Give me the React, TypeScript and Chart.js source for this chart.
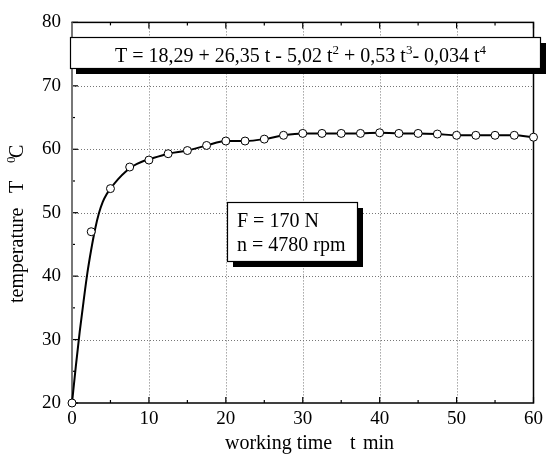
import React, { useEffect, useRef } from "react";
import { Chart, registerables } from "chart.js";

Chart.register(...registerables);

// measured points (time in min, temperature in °C)
const timeMin = [0, 2.5, 5, 7.5, 10, 12.5, 15, 17.5, 20, 22.5, 25, 27.5, 30, 32.5, 35, 37.5, 40, 42.5, 45, 47.5, 50, 52.5, 55, 57.5, 60];
const tempC = [20, 47.0, 53.8, 57.2, 58.3, 59.3, 59.8, 60.6, 61.3, 61.3, 61.6, 62.2, 62.5, 62.5, 62.5, 62.5, 62.6, 62.5, 62.5, 62.4, 62.2, 62.2, 62.2, 62.2, 61.9];

// fitted curve
const curveTime = [0, 0.5, 1, 1.5, 2, 2.5, 3, 3.5, 4, 4.5, 5, 6, 7, 8, 9, 10, 12.5, 15, 17.5, 20, 22.5, 25, 27.5, 30, 32.5, 35, 37.5, 40, 42.5, 45, 47.5, 50, 52.5, 55, 57.5, 60];
const curveTemp = [20, 25.8, 31.2, 36, 40.5, 44.2, 47.4, 49.9, 51.7, 52.9, 53.8, 55.3, 56.5, 57.4, 58, 58.4, 59.3, 59.8, 60.6, 61.3, 61.3, 61.6, 62.2, 62.5, 62.5, 62.5, 62.5, 62.6, 62.5, 62.5, 62.4, 62.2, 62.2, 62.2, 62.2, 61.9];

const xTicks = [0, 10, 20, 30, 40, 50, 60];
const yTicks = [20, 30, 40, 50, 60, 70, 80];

const xLabel = ["working time", "t", "min"];
const yLabel = ["temperature", "T", "0", "C"];
const equation: [string, boolean][] = [
  ["T = 18,29 + 26,35 t - 5,02 t", false],
  ["2", true],
  [" + 0,53 t", false],
  ["3", true],
  ["- 0,034 t", false],
  ["4", true],
];
const conditions = ["F = 170 N", "n = 4780 rpm"];

const FONT = "'Liberation Serif', 'DejaVu Serif', serif";

const decorPlugin = {
  id: "decor",
  beforeDatasetsDraw(chart: any) {
    const { ctx, chartArea: a, scales } = chart;
    const xs = scales.x, ys = scales.y;
    ctx.save();
    // dotted grid
    ctx.strokeStyle = "#777";
    ctx.lineWidth = 1;
    ctx.setLineDash([1, 2]);
    for (let v = 10; v < 60; v += 10) {
      const px = Math.round(xs.getPixelForValue(v)) + 0.5;
      ctx.beginPath(); ctx.moveTo(px, a.top); ctx.lineTo(px, a.bottom); ctx.stroke();
    }
    for (let v = 30; v < 80; v += 10) {
      const py = Math.round(ys.getPixelForValue(v)) + 0.5;
      ctx.beginPath(); ctx.moveTo(a.left, py); ctx.lineTo(a.right, py); ctx.stroke();
    }
    ctx.setLineDash([]);
    // ticks
    ctx.strokeStyle = "#000";
    ctx.lineWidth = 1.2;
    for (let v = 0; v <= 60; v += 5) {
      const px = xs.getPixelForValue(v);
      const len = v % 10 === 0 ? 6 : 3;
      ctx.beginPath(); ctx.moveTo(px, a.bottom); ctx.lineTo(px, a.bottom - len); ctx.stroke();
      ctx.beginPath(); ctx.moveTo(px, a.top); ctx.lineTo(px, a.top + len); ctx.stroke();
    }
    for (let v = 20; v <= 80; v += 5) {
      const py = ys.getPixelForValue(v);
      const len = v % 10 === 0 ? 6 : 3;
      ctx.beginPath(); ctx.moveTo(a.left, py); ctx.lineTo(a.left + len, py); ctx.stroke();
    }
    // frame
    ctx.lineWidth = 1.5;
    ctx.strokeStyle = "#000";
    ctx.strokeRect(a.left, a.top, a.right - a.left, a.bottom - a.top);
    ctx.strokeStyle = "#777";
    ctx.lineWidth = 2;
    ctx.beginPath(); ctx.moveTo(a.left, a.top); ctx.lineTo(a.left, a.bottom); ctx.stroke();
    ctx.restore();
  },
  afterDraw(chart: any) {
    const { ctx } = chart;
    ctx.save();
    ctx.fillStyle = "#000";
    ctx.textBaseline = "alphabetic";
    ctx.textAlign = "left";
    // axis titles
    ctx.font = `20px ${FONT}`;
    ctx.fillText(xLabel[0], 225, 449);
    ctx.fillText(xLabel[1], 350, 449);
    ctx.fillText(xLabel[2], 363, 449);

    const rot = (s: string, x: number, y: number, font: string) => {
      ctx.save();
      ctx.translate(x, y);
      ctx.rotate(-Math.PI / 2);
      ctx.font = font;
      ctx.fillText(s, 0, 0);
      ctx.restore();
    };
    rot(yLabel[0], 23, 303, `20px ${FONT}`);
    rot(yLabel[1], 23, 193, `20px ${FONT}`);
    rot(yLabel[2], 15, 163, `13px ${FONT}`);
    rot(yLabel[3], 23, 158, `20px ${FONT}`);

    // box helper
    const box = (x: number, y: number, w: number, h: number) => {
      ctx.fillStyle = "#000";
      ctx.fillRect(x + 6, y + 6, w, h);
      ctx.fillStyle = "#fff";
      ctx.fillRect(x, y, w, h);
      ctx.strokeStyle = "#000";
      ctx.lineWidth = 1.2;
      ctx.strokeRect(x + 0.5, y + 0.5, w, h);
    };
    box(70, 37, 470, 31);
    let cx = 115;
    for (const [s, sup] of equation) {
      ctx.fillStyle = "#000";
      ctx.font = sup ? `13px ${FONT}` : `20px ${FONT}`;
      ctx.fillText(s, cx, sup ? 54 : 62);
      cx += ctx.measureText(s).width;
    }

    box(227, 202, 130, 59);
    ctx.fillStyle = "#000";
    ctx.font = `20px ${FONT}`;
    ctx.fillText(conditions[0], 237, 227);
    ctx.fillText(conditions[1], 237, 251);
    ctx.restore();
  },
};

export default function App() {
  const ref = useRef<HTMLCanvasElement | null>(null);
  useEffect(() => {
    if (!ref.current) return;
    const chart = new Chart(ref.current, {
      type: "scatter",
      data: {
        datasets: [
          {
            label: "measured",
            data: timeMin.map((t, i) => ({ x: t, y: tempC[i] })),
            showLine: false,
            pointRadius: 4,
            pointBackgroundColor: "#fff",
            pointBorderColor: "#000",
            pointBorderWidth: 1,
            clip: false,
          },
          {
            label: "fit",
            data: curveTime.map((t, i) => ({ x: t, y: curveTemp[i] })),
            showLine: true,
            borderColor: "#000",
            borderWidth: 2,
            pointRadius: 0,
            cubicInterpolationMode: "monotone",
            clip: false,
          },
        ],
      },
      options: {
        responsive: false,
        animation: false,
        devicePixelRatio: 1,
        layout: { padding: { top: 15, right: 11, left: 0, bottom: 0 } },
        plugins: { legend: { display: false }, tooltip: { enabled: false } },
        scales: {
          x: {
            type: "linear",
            min: 0,
            max: 60,
            afterBuildTicks: (s: any) => { s.ticks = xTicks.map((v) => ({ value: v })); },
            ticks: { color: "#000", font: { family: FONT, size: 19 }, padding: 5, maxRotation: 0 },
            grid: { display: false, drawTicks: false },
            border: { display: false },
            afterFit: (s: any) => { s.height = 54; },
          },
          y: {
            type: "linear",
            min: 20,
            max: 80,
            afterBuildTicks: (s: any) => { s.ticks = yTicks.map((v) => ({ value: v })); },
            ticks: { color: "#000", font: { family: FONT, size: 19 }, padding: 11 },
            grid: { display: false, drawTicks: false },
            border: { display: false },
            afterFit: (s: any) => { s.width = 72; },
          },
        },
      },
      plugins: [decorPlugin],
    } as any);
    return () => chart.destroy();
  }, []);
  return (
    <div style={{ position: "fixed", left: 0, top: 0, width: 548, height: 457, background: "#fff" }}>
      <canvas ref={ref} width={548} height={457} style={{ width: 548, height: 457, display: "block" }} />
    </div>
  );
}
